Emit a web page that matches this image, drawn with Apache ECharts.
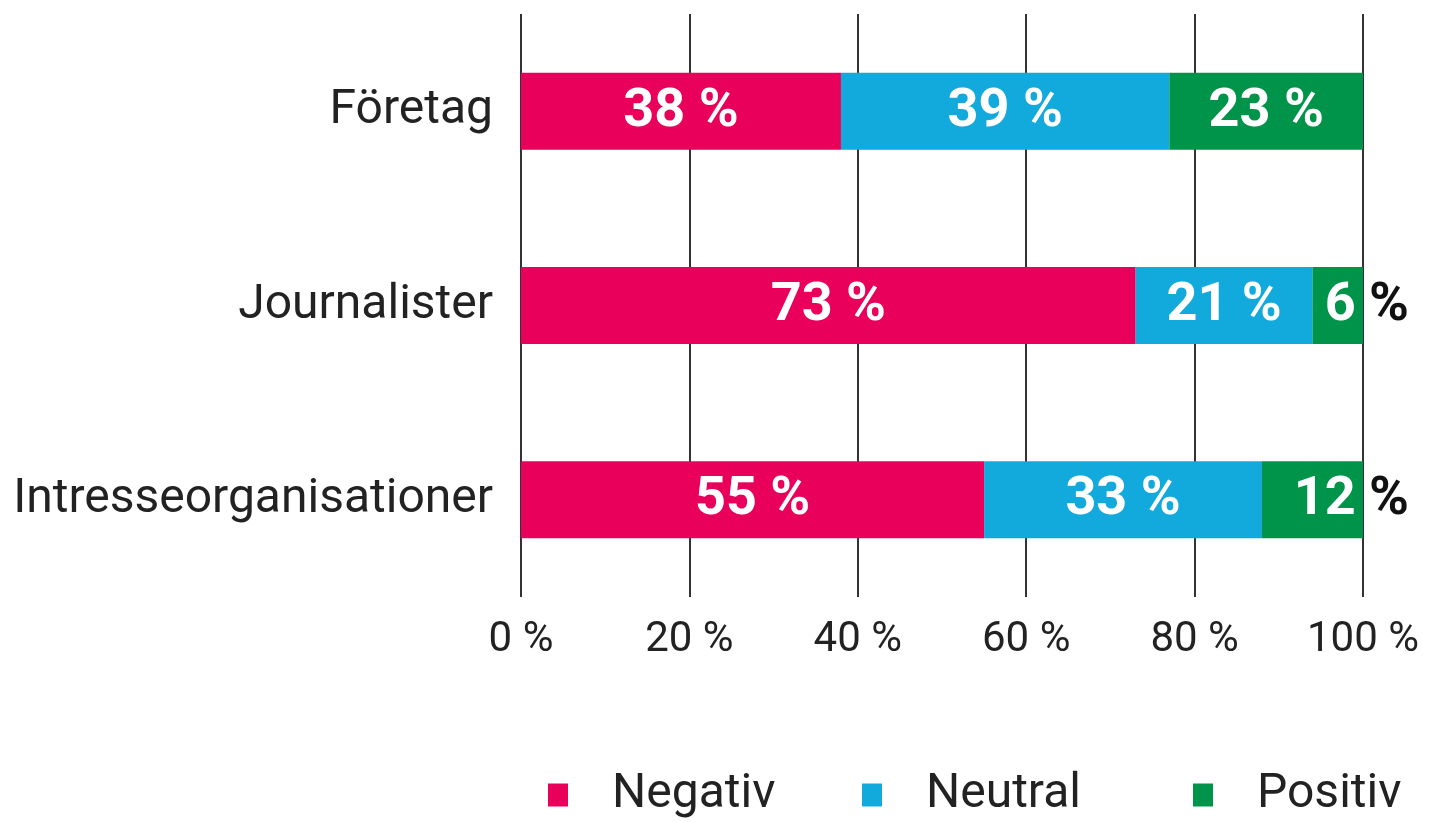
<!DOCTYPE html>
<html><head><meta charset="utf-8">
<script src="https://cdn.jsdelivr.net/npm/echarts@6/dist/echarts.min.js"></script>
<style>html,body{margin:0;padding:0;background:#fff}#c{width:1430px;height:822px}</style>
</head><body><div id="c"></div>
<script>
const categories = ['Företag', 'Journalister', 'Intresseorganisationer'];
const seriesNames = ['Negativ', 'Neutral', 'Positiv'];
const negativ = [38, 73, 55];
const neutral = [39, 21, 33];
const positiv = [23, 6, 12];
const tickValues = [0, 20, 40, 60, 80, 100];
const colors = ['#E8005A', '#12A9DC', '#00934A'];
const FONT = 'Roboto';

const chart = echarts.init(document.getElementById('c'), null, {renderer: 'canvas'});

function makeData(vals, allowOverflow) {
  return vals.map(v => {
    if (allowOverflow && v < 15) {
      return {
        value: v,
        label: {
          position: 'insideRight', distance: 0, offset: [46, 1],
          formatter: p => '{w|' + p.value + '}{k| %}'
        }
      };
    }
    return v;
  });
}

const richStyle = {
  w: {color: '#fff', fontSize: 54, fontWeight: 'bold', fontFamily: FONT},
  k: {color: '#111', fontSize: 54, fontWeight: 'bold', fontFamily: FONT}
};

const all = [negativ, neutral, positiv];
const series = all.map((vals, i) => ({
  name: seriesNames[i],
  type: 'bar',
  stack: 'total',
  barWidth: 77,
  itemStyle: {color: colors[i]},
  label: {
    show: true,
    position: 'inside',
    offset: [0, 1],
    formatter: p => '{w|' + p.value + ' %}',
    rich: richStyle
  },
  emphasis: {disabled: true},
  data: makeData(vals, i === 2)
}));

const legendLefts = [548, 862, 1193];
const legends = seriesNames.map((n, i) => ({
  data: [n],
  top: 771,
  left: legendLefts[i],
  padding: 0,
  icon: 'rect',
  itemWidth: 20,
  itemHeight: 23,
  selectedMode: false,
  textStyle: {fontSize: 48, color: '#222', fontFamily: FONT, padding: [0, 0, 0, 39]}
}));

chart.setOption({
  animation: false,
  backgroundColor: '#fff',
  grid: {left: 521, right: 67, top: 14, bottom: 225, containLabel: false},
  legend: legends,
  xAxis: {
    type: 'value',
    min: 0, max: 100, interval: 20,
    axisLine: {show: false},
    axisTick: {show: false},
    splitLine: {show: true, lineStyle: {color: '#333', width: 2}},
    axisLabel: {
      fontSize: 42, color: '#222', fontFamily: FONT, margin: 22,
      formatter: v => tickValues.includes(v) ? v + ' %' : ''
    }
  },
  yAxis: {
    type: 'category',
    data: categories,
    inverse: true,
    axisLine: {show: false},
    axisTick: {show: false},
    axisLabel: {fontSize: 48, color: '#222', fontFamily: FONT, margin: 28}
  },
  series: series
});
</script></body></html>
